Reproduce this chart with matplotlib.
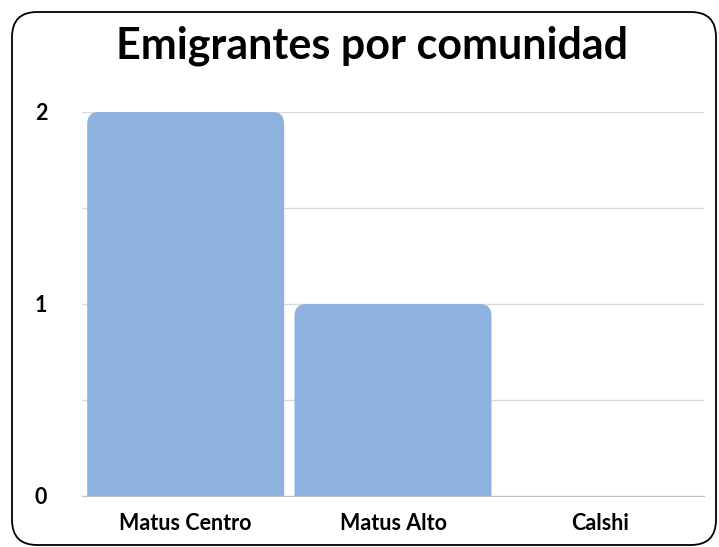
import matplotlib
matplotlib.use('Agg')
import matplotlib.pyplot as plt
from matplotlib.patches import FancyBboxPatch

# Data
comunidades = ['Matus Centro', 'Matus Alto', 'Calshi']
emigrantes = [2, 1, 0]
y_ticks = [0, 1, 2]

bar_color = '#8DB2E0'
grid_color = '#D9D9D9'

plt.rcParams['font.family'] = ['Lato', 'DejaVu Sans']

fig = plt.figure(figsize=(7.19, 5.47), dpi=100)
ax = fig.add_axes([82 / 719, 1 - 496 / 547, (704 - 82) / 719, (496 - 112) / 547])

# Rounded frame around the whole chart
frame = FancyBboxPatch((12 / 719, 2 / 547), 704 / 719, 533 / 547,
                       boxstyle='round,pad=0,rounding_size=0.035',
                       transform=fig.transFigure, fill=False,
                       edgecolor='black', linewidth=1.3, mutation_aspect=719 / 547)
fig.patches.append(frame)

fig.text(372 / 719, 1 - 46 / 547, 'Emigrantes por comunidad',
         ha='center', va='center', fontsize=31, fontweight='bold')

x = range(len(comunidades))
bars = ax.bar(x, emigrantes, width=0.95, color=bar_color, zorder=2)

ax.set_xlim(-0.5, len(comunidades) - 0.5)
ax.set_ylim(0, 2)

# Swap plain bars for ones with rounded top corners
ax_h_px = 384
data_per_px_y = 2 / ax_h_px
data_per_px_x = 3 / 622
for b in bars:
    h = b.get_height()
    b.set_visible(False)
    if h <= 0:
        continue
    r = 12 * data_per_px_x
    p = FancyBboxPatch((b.get_x(), -0.2), b.get_width(), h + 0.2,
                       boxstyle=f'round,pad=0,rounding_size={r}',
                       mutation_aspect=data_per_px_y / data_per_px_x,
                       facecolor=bar_color, edgecolor='none', zorder=2)
    ax.add_patch(p)

ax.set_yticks([0, 0.5, 1, 1.5, 2])
ax.set_yticklabels(['0', '', '1', '', '2'])
ax.grid(axis='y', color=grid_color, linewidth=1, zorder=0)
ax.set_axisbelow(True)
ax.set_xticks(list(x))
ax.set_xticklabels(comunidades)

for s in ['top', 'right', 'left']:
    ax.spines[s].set_visible(False)
ax.spines['bottom'].set_color('#BFBFBF')
ax.tick_params(axis='both', length=0, labelsize=15.5)
ax.tick_params(axis='y', pad=25)
ax.tick_params(axis='x', pad=12)
for lbl in ax.get_xticklabels() + ax.get_yticklabels():
    lbl.set_fontweight('bold')

fig.savefig('out.png', dpi=100)
